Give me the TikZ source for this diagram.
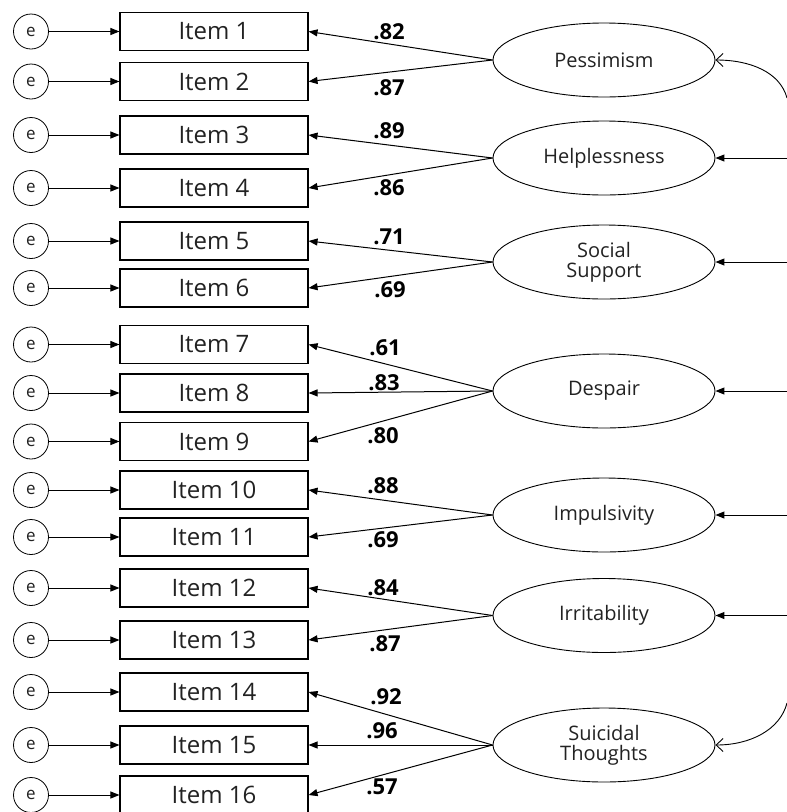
\documentclass[tikz,border=0pt]{standalone}
\usepackage{fontspec}
\setmainfont{Open Sans}
\usetikzlibrary{arrows.meta,shapes.geometric}
\definecolor{txt}{HTML}{222222}
\tikzset{
  item/.style={draw, line width=1.1pt, minimum width=188pt, minimum height=38pt, inner sep=0pt, font=\fontsize{24}{26}\selectfont, text=txt},
  err/.style={draw, line width=0.8pt, circle, minimum size=35pt, inner sep=0pt, font=\fontsize{17}{18}\selectfont, text=txt},
  latent/.style={draw, line width=0.9pt, ellipse, minimum width=222pt, minimum height=74pt, inner sep=0pt, align=center, font=\fontsize{20}{24}\selectfont, text=txt},
  load/.style={line width=1pt, -{Triangle[length=9pt,width=7pt]}},
  opn/.style={line width=0.9pt, -{Straight Barb[length=7pt,width=13pt]}},
  lab/.style={font=\fontsize{22}{24}\selectfont\bfseries, inner sep=0pt}
}
\begin{document}
\begin{tikzpicture}[x=1pt,y=-1pt]
\useasboundingbox (0,0) rectangle (787,812);
\foreach \i/\y in {1/31.5,2/81.5,3/135,4/188,5/241,6/288,7/344.5,8/393,9/441.5,10/490,11/537,12/588,13/640,14/692,15/745,16/795}{
  \node[item] (it\i) at (214,\y) {Item \i};
  \node[err] (e\i) at (31,\y) {e};
  \draw[load] (e\i) -- (it\i);
}
\node[latent] (pes) at (604,60) {Pessimism};
\node[latent] (hel) at (604,158) {Helplessness};
\node[latent] (soc) at (604,262) {Social\\[-4pt]Support};
\node[latent] (des) at (604,391) {Despair};
\node[latent] (imp) at (604,515) {Impulsivity};
\node[latent] (irr) at (604,615.5) {Irritability};
\node[latent] (sui) at (604,745) {Suicidal\\[-4pt]Thoughts};
\foreach \l/\a/\b in {pes/1/2, hel/3/4, soc/5/6, imp/10/11, irr/12/13}{
  \draw[load] (\l.west) -- (it\a.east);
  \draw[load] (\l.west) -- (it\b.east);
}
\foreach \l/\a/\b/\c in {des/7/8/9, sui/14/15/16}{
  \draw[load] (\l.west) -- (it\a.east);
  \draw[load] (\l.west) -- (it\b.east);
  \draw[load] (\l.west) -- (it\c.east);
}
\foreach \n/\y in {hel/158, soc/262, des/391, imp/515, irr/615.5}{
  \coordinate (r\n) at (787,\y);
  \draw[load] (r\n) -- (\n.east);
}
\coordinate (rtop) at (787,98);
\coordinate (rbot) at (787,703);
\draw[opn] (rtop) .. controls (780,72) and (750,60) .. (pes.east);
\draw[opn] (rbot) .. controls (780,730) and (750,745) .. (sui.east);
\node[lab] (l1) at (389,32) {.82};
\node[lab] (l2) at (389,88) {.87};
\node[lab] (l3) at (389,131) {.89};
\node[lab] (l4) at (389,188) {.86};
\node[lab] (l5) at (389,237) {.71};
\node[lab] (l6) at (390,290) {.69};
\node[lab] (l7) at (385,348) {.61};
\node[lab] (l8) at (384,383) {.83};
\node[lab] (l9) at (383,436) {.80};
\node[lab] (l10) at (383,486) {.88};
\node[lab] (l11) at (383,540) {.69};
\node[lab] (l12) at (383,588) {.84};
\node[lab] (l13) at (385,644) {.87};
\node[lab] (l14) at (386,697) {.92};
\node[lab] (l15) at (382,731) {.96};
\node[lab] (l16) at (382,787) {.57};
\end{tikzpicture}
\end{document}
